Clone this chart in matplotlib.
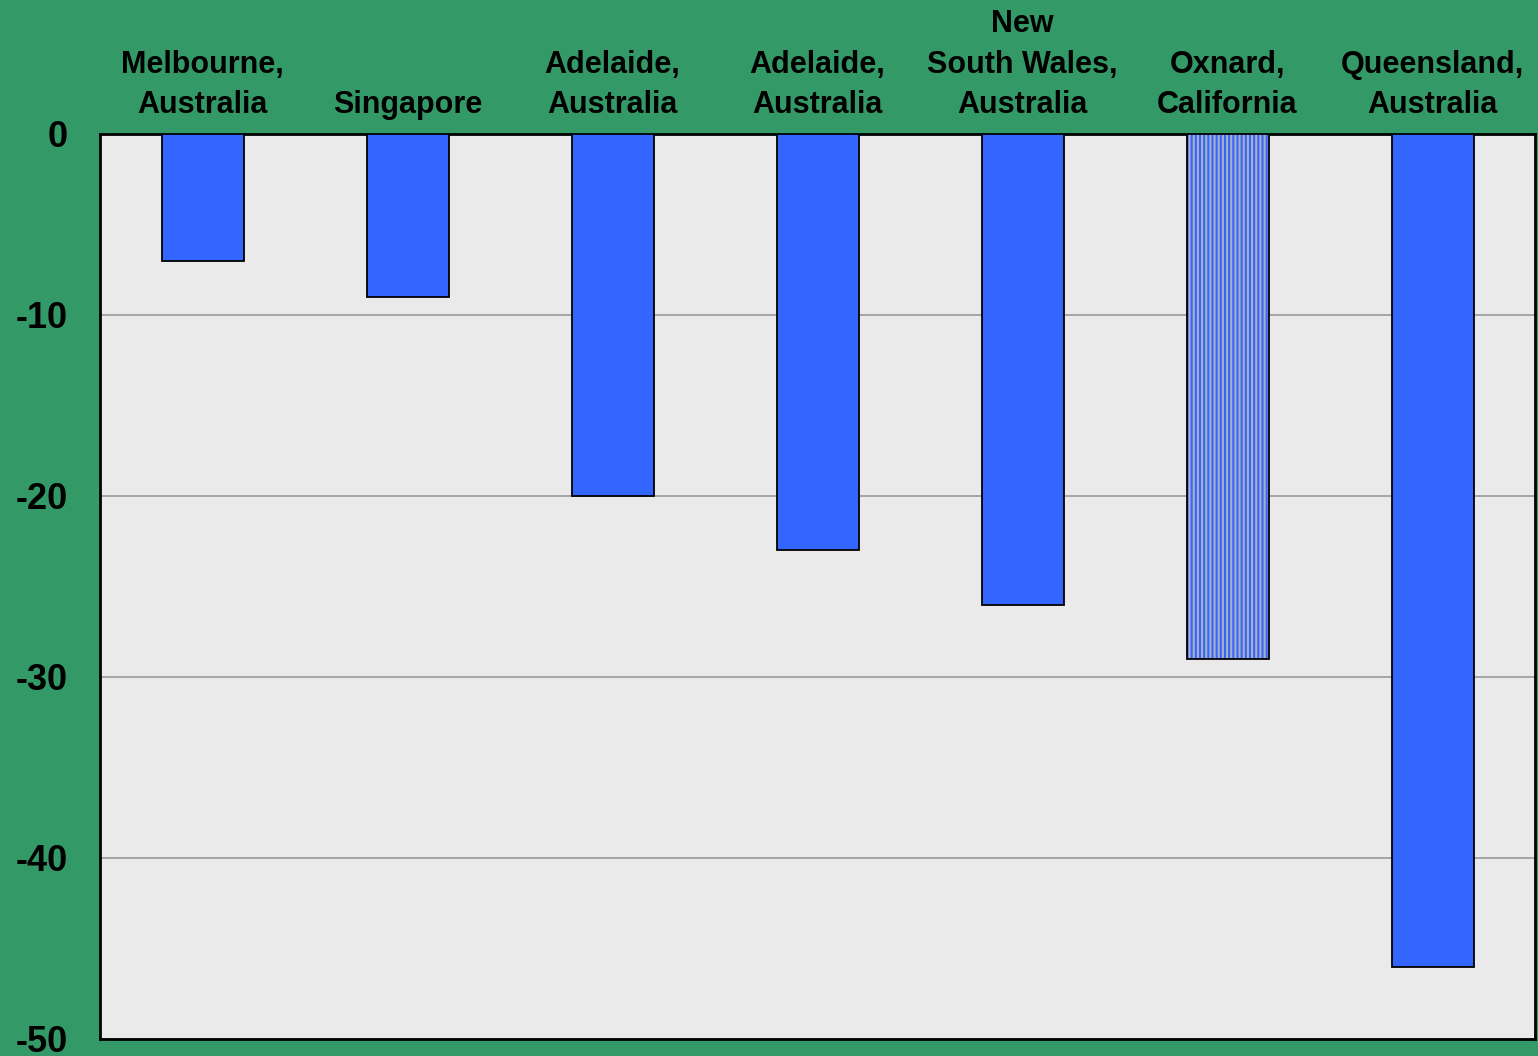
import matplotlib.pyplot as plt
import numpy as np

plt.rcParams['font.family'] = ['Liberation Sans', 'DejaVu Sans']
plt.rcParams['hatch.linewidth'] = 1.5

# Data
categories = [
    "Melbourne,\nAustralia",
    "Singapore",
    "Adelaide,\nAustralia",
    "Adelaide,\nAustralia",
    "New\nSouth Wales,\nAustralia",
    "Oxnard,\nCalifornia",
    "Queensland,\nAustralia",
]
values = [-7, -9, -20, -23, -26, -29, -46]
hatched = [False, False, False, False, False, True, False]
y_ticks = [0, -10, -20, -30, -40, -50]

BG = "#339966"
PLOT_BG = "#EAEAEA"
BAR = "#3366FF"

fig = plt.figure(figsize=(15.38, 10.56), dpi=100, facecolor=BG)
ax = fig.add_axes([100 / 1538, 1 - 1039 / 1056, 1435 / 1538, (1039 - 134) / 1056])
ax.set_facecolor(PLOT_BG)

x = np.arange(len(categories))
plain_x = [xi for xi, h in zip(x, hatched) if not h]
plain_v = [v for v, h in zip(values, hatched) if not h]
hatch_x = [xi for xi, h in zip(x, hatched) if h]
hatch_v = [v for v, h in zip(values, hatched) if h]

ax.bar(plain_x, plain_v, width=0.4, color=BAR, edgecolor="black", linewidth=1.3, zorder=3)
ax.bar(hatch_x, hatch_v, width=0.4, color=BAR, edgecolor="#AAB0C2", hatch="||||", linewidth=0, zorder=3)
ax.bar(hatch_x, hatch_v, width=0.4, color="none", edgecolor="black", linewidth=1.3, zorder=4)

ax.set_xlim(-0.5, len(categories) - 0.5)
ax.set_ylim(-50, 0)
ax.set_yticks(y_ticks)
ax.set_yticklabels([str(t) for t in y_ticks], fontsize=26, fontweight="bold")
ax.tick_params(axis="y", length=0, pad=23)
ax.grid(axis="y", color="#999999", linewidth=1.2, zorder=0)
ax.set_axisbelow(True)

ax.xaxis.tick_top()
ax.set_xticks(x)
ax.set_xticklabels(categories, fontsize=22, fontweight="bold", linespacing=1.45)
ax.tick_params(axis="x", length=0, pad=10)

for s in ax.spines.values():
    s.set_color("black")
    s.set_linewidth(2)

fig.savefig("out.png", dpi=100, facecolor=BG)
